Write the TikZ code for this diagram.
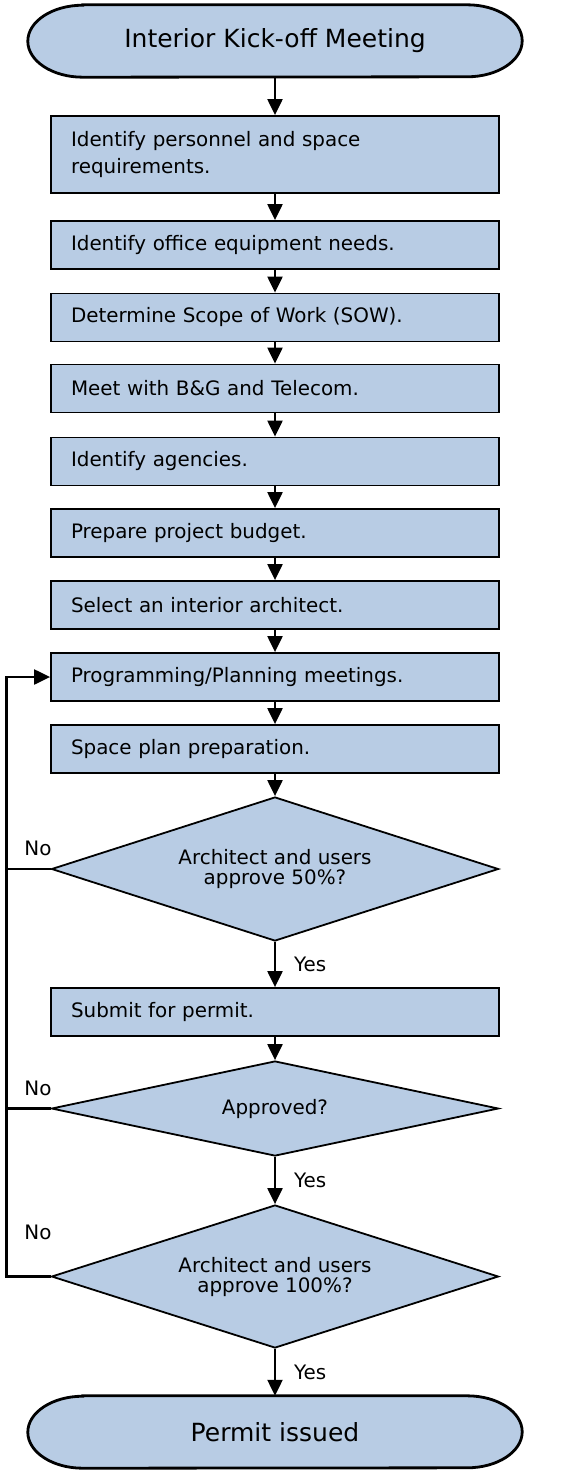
\documentclass[tikz,border=0pt]{standalone}
\usepackage{fontspec}
\setmainfont{DejaVu Sans}
\usetikzlibrary{shapes.geometric,arrows.meta,backgrounds}
\definecolor{boxfill}{HTML}{B8CCE4}
\tikzset{
  stepbox/.style={rectangle, draw=black, line width=1.8pt, fill=boxfill,
    minimum height=48pt, text width=408pt, inner xsep=20pt, inner ysep=0pt,
    align=left, font=\fontsize{19.9}{27}\selectfont},
  decision/.style={diamond, draw=black, line width=1.8pt, fill=boxfill,
    aspect=3, inner sep=0pt, minimum width=447pt, align=center,
    font=\fontsize{19.9}{20}\selectfont},
  terminal/.style={rectangle, minimum width=494pt, minimum height=72pt,
    inner sep=0pt, font=\fontsize{25}{29}\selectfont},
  termline/.style={draw=black, fill=boxfill, line width=2.8pt},
  flow/.style={line width=2.2pt, -{Triangle[length=16pt,width=15pt]}},
  link/.style={line width=2.2pt},
  answer/.style={inner sep=0pt, font=\fontsize{19.9}{22}\selectfont}
}
\begin{document}
\begin{tikzpicture}[x=1pt,y=1pt]
\useasboundingbox (0,0) rectangle (561,-1472);

% start and end terminals (outline drawn on the background layer)
\node[terminal] (t1) at (275,-41) {Interior Kick-off Meeting};
\node[terminal] (t2) at (275,-1432) {Permit issued};
\begin{scope}[on background layer]
  \foreach \t in {t1,t2}
    \path[termline] ([xshift=55pt]\t.north west) -- ([xshift=-55pt]\t.north east)
      arc[start angle=90, end angle=-90, x radius=55pt, y radius=36pt]
      -- ([xshift=55pt]\t.south west)
      arc[start angle=270, end angle=90, x radius=55pt, y radius=36pt] -- cycle;
\end{scope}

% process steps
\node[stepbox, minimum height=77pt] (b1) at (275,-154.5) {Identify personnel and space\\requirements.};
\node[stepbox] (b2) at (275,-245) {Identify office equipment needs.};
\node[stepbox] (b3) at (275,-317.5) {Determine Scope of Work (SOW).};
\node[stepbox] (b4) at (275,-388.5) {Meet with B\&G and Telecom.};
\node[stepbox] (b5) at (275,-461.5) {Identify agencies.};
\node[stepbox] (b6) at (275,-533) {Prepare project budget.};
\node[stepbox] (b7) at (275,-605) {Select an interior architect.};
\node[stepbox] (b8) at (275,-677) {Programming/Planning meetings.};
\node[stepbox] (b9) at (275,-749) {Space plan preparation.};
\node[decision, minimum height=144pt] (d1) at (275,-869) {Architect and users\\approve 50\%?};
\node[stepbox] (b10) at (275,-1012) {Submit for permit.};
\node[decision, minimum height=95pt] (d2) at (275,-1108.5) {Approved?};
\node[decision, minimum height=143pt] (d3) at (275,-1276.5) {Architect and users\\approve 100\%?};

% main flow
\draw[flow] (t1) -- (b1);
\draw[flow] (b1) -- (b2);
\draw[flow] (b2) -- (b3);
\draw[flow] (b3) -- (b4);
\draw[flow] (b4) -- (b5);
\draw[flow] (b5) -- (b6);
\draw[flow] (b6) -- (b7);
\draw[flow] (b7) -- (b8);
\draw[flow] (b8) -- (b9);
\draw[flow] (b9) -- (d1);
\draw[flow] (d1) -- node[answer, right=18pt] {Yes} (b10);
\draw[flow] (b10) -- (d2);
\draw[flow] (d2) -- node[answer, right=18pt] {Yes} (d3);
\draw[flow] (d3) -- node[answer, right=18pt] {Yes} (t2);

% return path for rejected reviews
\coordinate (rail) at (6.5,-677);
\draw[flow, line join=miter] (d3.west) -| (rail) -- (b8.west);
\draw[link] (d1.west) -- (d1.west -| rail);
\draw[link] (d2.west) -- (d2.west -| rail);
\node[answer] (no1) at (38,-848) {No};
\node[answer] (no2) at (38,-1088) {No};
\node[answer] (no3) at (38,-1232) {No};
\end{tikzpicture}
\end{document}
